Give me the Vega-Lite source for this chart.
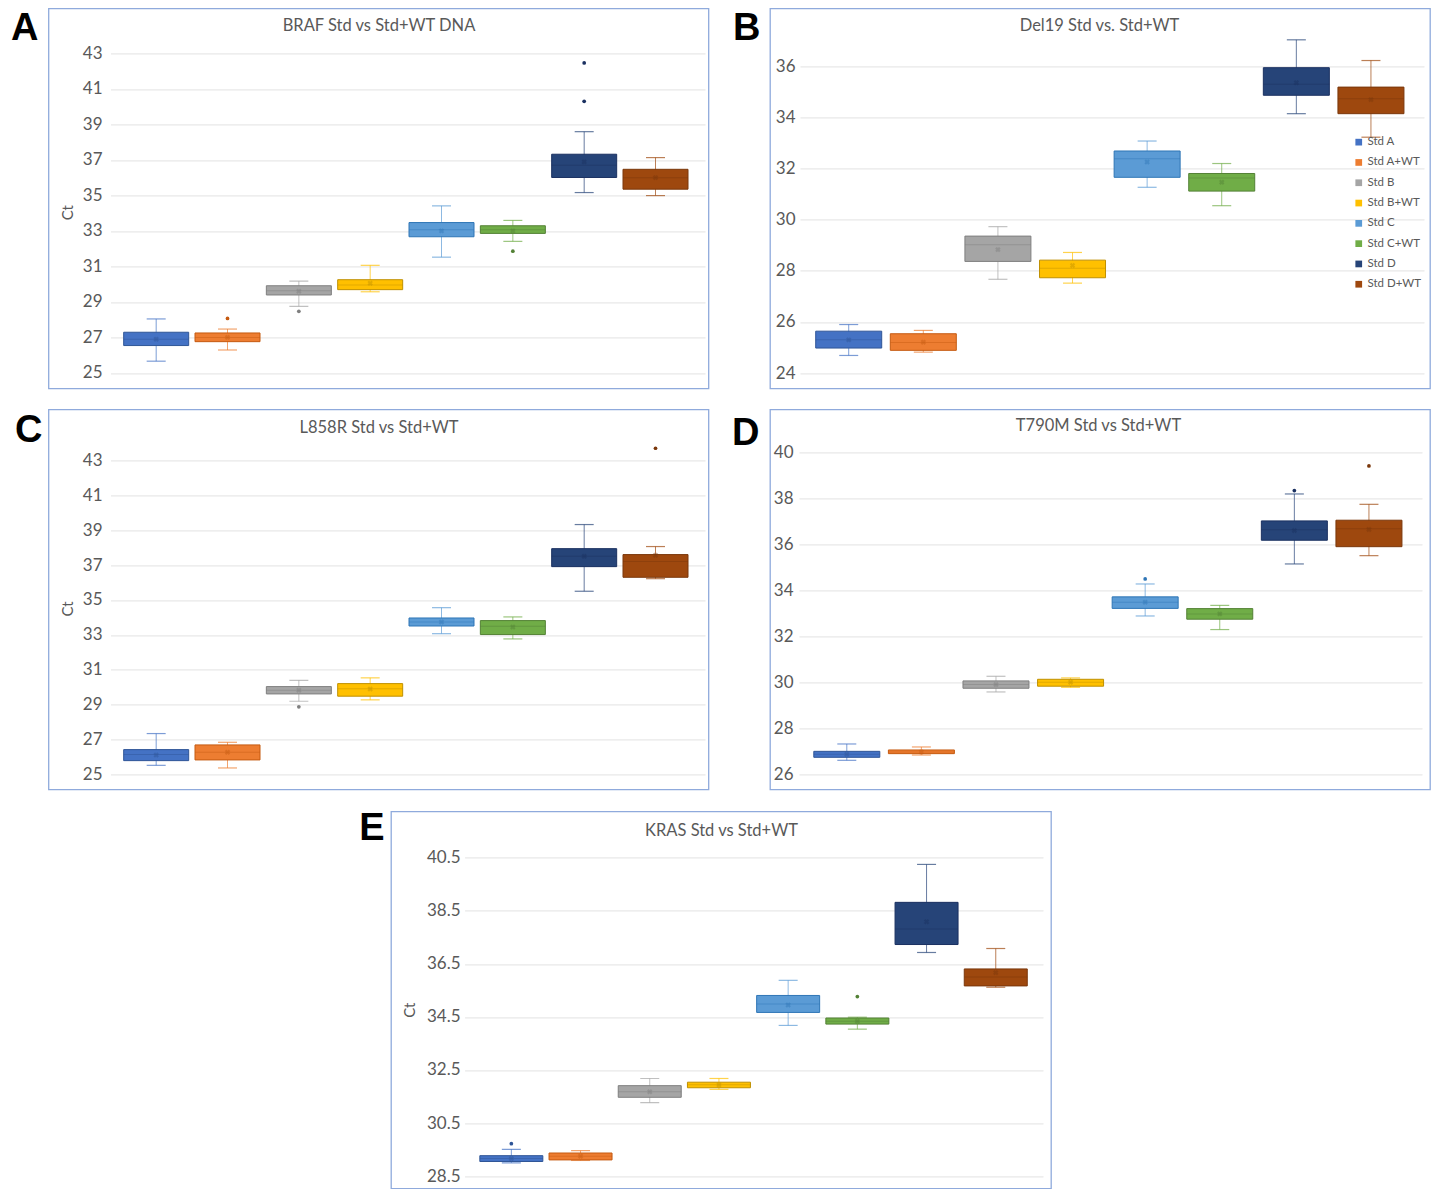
{
"$schema": "https://vega.github.io/schema/vega-lite/v6.json",
"background": "white",
"padding": {"left": 9.5, "top": 7.4, "right": 4, "bottom": 0},
"config": {
  "view": {"stroke": "#8FAADC", "strokeWidth": 1.3},
  "axis": {"labelFont": "Lato", "titleFont": "Lato", "labelColor": "#595959", "titleColor": "#595959", "gridColor": "#E2E2E2", "domain": false, "ticks": false, "titleFontWeight": "normal", "labelFontSize": 17, "titleFontSize": 15},
  "title": {"font": "Liberation Sans", "fontSize": 38, "fontWeight": "bold", "color": "#000000"}
},
"datasets": {
  "boxes": [
    {"panel":"A","group":"Std A","lo":25.66,"q1":26.54,"median":26.90,"q3":27.29,"hi":28.04,"mean":26.90},
    {"panel":"A","group":"Std A+WT","lo":26.29,"q1":26.76,"median":27.00,"q3":27.25,"hi":27.47,"mean":27.00},
    {"panel":"A","group":"Std B","lo":28.75,"q1":29.39,"median":29.63,"q3":29.91,"hi":30.17,"mean":29.60},
    {"panel":"A","group":"Std B+WT","lo":29.57,"q1":29.69,"median":29.95,"q3":30.25,"hi":31.06,"mean":30.05},
    {"panel":"A","group":"Std C","lo":31.52,"q1":32.67,"median":33.06,"q3":33.47,"hi":34.41,"mean":33.00},
    {"panel":"A","group":"Std C+WT","lo":32.41,"q1":32.86,"median":33.06,"q3":33.29,"hi":33.59,"mean":33.00},
    {"panel":"A","group":"Std D","lo":35.16,"q1":36.01,"median":36.70,"q3":37.32,"hi":38.59,"mean":36.89},
    {"panel":"A","group":"Std D+WT","lo":34.99,"q1":35.35,"median":36.00,"q3":36.47,"hi":37.13,"mean":36.00},
    {"panel":"B","group":"Std A","lo":24.69,"q1":24.98,"median":25.30,"q3":25.64,"hi":25.90,"mean":25.30},
    {"panel":"B","group":"Std A+WT","lo":24.82,"q1":24.89,"median":25.20,"q3":25.54,"hi":25.67,"mean":25.21},
    {"panel":"B","group":"Std B","lo":27.67,"q1":28.37,"median":29.02,"q3":29.36,"hi":29.73,"mean":28.83},
    {"panel":"B","group":"Std B+WT","lo":27.52,"q1":27.73,"median":28.10,"q3":28.42,"hi":28.72,"mean":28.21},
    {"panel":"B","group":"Std C","lo":31.27,"q1":31.66,"median":32.39,"q3":32.69,"hi":33.08,"mean":32.26},
    {"panel":"B","group":"Std C+WT","lo":30.55,"q1":31.12,"median":31.63,"q3":31.81,"hi":32.20,"mean":31.47},
    {"panel":"B","group":"Std D","lo":34.15,"q1":34.87,"median":35.30,"q3":35.95,"hi":37.04,"mean":35.36},
    {"panel":"B","group":"Std D+WT","lo":33.23,"q1":34.15,"median":34.73,"q3":35.19,"hi":36.23,"mean":34.70},
    {"panel":"C","group":"Std A","lo":25.53,"q1":25.80,"median":26.15,"q3":26.43,"hi":27.35,"mean":26.12},
    {"panel":"C","group":"Std A+WT","lo":25.38,"q1":25.84,"median":26.28,"q3":26.70,"hi":26.85,"mean":26.28},
    {"panel":"C","group":"Std B","lo":29.20,"q1":29.62,"median":29.83,"q3":30.04,"hi":30.40,"mean":29.83},
    {"panel":"C","group":"Std B+WT","lo":29.28,"q1":29.49,"median":29.91,"q3":30.21,"hi":30.54,"mean":29.90},
    {"panel":"C","group":"Std C","lo":33.07,"q1":33.51,"median":33.74,"q3":33.97,"hi":34.56,"mean":33.74},
    {"panel":"C","group":"Std C+WT","lo":32.77,"q1":33.02,"median":33.49,"q3":33.82,"hi":34.03,"mean":33.45},
    {"panel":"C","group":"Std D","lo":35.50,"q1":36.91,"median":37.50,"q3":37.94,"hi":39.32,"mean":37.50},
    {"panel":"C","group":"Std D+WT","lo":36.22,"q1":36.30,"median":37.20,"q3":37.60,"hi":38.06,"mean":37.56},
    {"panel":"D","group":"Std A","lo":26.62,"q1":26.75,"median":26.88,"q3":27.01,"hi":27.33,"mean":26.88},
    {"panel":"D","group":"Std A+WT","lo":26.85,"q1":26.91,"median":26.98,"q3":27.07,"hi":27.20,"mean":26.98},
    {"panel":"D","group":"Std B","lo":29.59,"q1":29.75,"median":29.91,"q3":30.07,"hi":30.27,"mean":29.91},
    {"panel":"D","group":"Std B+WT","lo":29.79,"q1":29.84,"median":30.01,"q3":30.14,"hi":30.20,"mean":30.01},
    {"panel":"D","group":"Std C","lo":32.89,"q1":33.22,"median":33.49,"q3":33.72,"hi":34.28,"mean":33.49},
    {"panel":"D","group":"Std C+WT","lo":32.30,"q1":32.75,"median":32.98,"q3":33.21,"hi":33.35,"mean":32.98},
    {"panel":"D","group":"Std D","lo":35.15,"q1":36.18,"median":36.64,"q3":37.02,"hi":38.19,"mean":36.60},
    {"panel":"D","group":"Std D+WT","lo":35.51,"q1":35.90,"median":36.68,"q3":37.05,"hi":37.74,"mean":36.65},
    {"panel":"E","group":"Std A","lo":29.00,"q1":29.05,"median":29.16,"q3":29.27,"hi":29.51,"mean":29.16},
    {"panel":"E","group":"Std A+WT","lo":29.09,"q1":29.11,"median":29.25,"q3":29.37,"hi":29.46,"mean":29.25},
    {"panel":"E","group":"Std B","lo":31.27,"q1":31.47,"median":31.68,"q3":31.91,"hi":32.18,"mean":31.68},
    {"panel":"E","group":"Std B+WT","lo":31.77,"q1":31.83,"median":31.94,"q3":32.04,"hi":32.18,"mean":31.94},
    {"panel":"E","group":"Std C","lo":34.18,"q1":34.67,"median":34.99,"q3":35.31,"hi":35.88,"mean":34.95},
    {"panel":"E","group":"Std C+WT","lo":34.04,"q1":34.23,"median":34.34,"q3":34.46,"hi":34.49,"mean":34.34},
    {"panel":"E","group":"Std D","lo":36.93,"q1":37.23,"median":37.82,"q3":38.82,"hi":40.25,"mean":38.09},
    {"panel":"E","group":"Std D+WT","lo":35.62,"q1":35.67,"median":36.01,"q3":36.31,"hi":37.08,"mean":36.17}
  ],
  "outliers": [
    {"panel":"A","group":"Std A+WT","value":28.07},
    {"panel":"A","group":"Std B","value":28.47},
    {"panel":"A","group":"Std C+WT","value":31.86},
    {"panel":"A","group":"Std D","value":40.30},
    {"panel":"A","group":"Std D","value":42.46},
    {"panel":"C","group":"Std B","value":28.88},
    {"panel":"C","group":"Std D+WT","value":43.69},
    {"panel":"D","group":"Std C","value":34.50},
    {"panel":"D","group":"Std D","value":38.34},
    {"panel":"D","group":"Std D+WT","value":39.41},
    {"panel":"E","group":"Std A","value":29.72},
    {"panel":"E","group":"Std C+WT","value":35.27}
  ]
},
"spacing": 19,
"resolve": {"scale": {"color": "independent", "stroke": "independent", "fill": "independent"}, "legend": {"color": "independent"}},
"vconcat": [
 {
  "hconcat": [
   {
    "width": 660, "height": 380,
    "title": {"text": "A", "orient": "left", "anchor": "end", "angle": 0, "align": "left", "baseline": "top", "offset": 10, "dy": 2},
    "data": {"name": "boxes"},
    "transform": [{"filter": "datum.panel === 'A'"}],
    "encoding": {
      "x": {"field": "group", "type": "nominal", "scale": {"domain": ["Std A","Std A+WT","Std B","Std B+WT","Std C","Std C+WT","Std D","Std D+WT"], "range": [62, 656.5], "paddingInner": 0, "paddingOuter": 0.167, "align": 0.42}, "axis": {"orient": "top", "title": "BRAF Std vs Std+WT DNA", "labels": false, "ticks": false, "domain": false, "grid": false, "titleX": 330, "titleY": 17.5, "titleBaseline": "middle", "titleFontSize": 16.5}},
      "color": {"field": "group", "type": "nominal", "scale": {"domain": ["Std A","Std A+WT","Std B","Std B+WT","Std C","Std C+WT","Std D","Std D+WT"], "range": ["#4472C4","#ED7D31","#A5A5A5","#FFC000","#5B9BD5","#70AD47","#264478","#9E480E"]}, "legend": null}
    },
    "layer": [
      {"mark": {"type": "rule", "strokeWidth": 1, "opacity": 0.7}, "encoding": {"y": {"field": "lo", "type": "quantitative", "scale": {"domain": [25, 43], "range": [364.5, 45], "nice": false, "zero": false}, "axis": {"orient": "left", "offset": -62, "values": [25,27,29,31,33,35,37,39,41,43], "labelPadding": 8.5, "grid": true, "title": "Ct", "titleX": -43.5, "titleY": 203.7, "titleAngle": -90, "titleBaseline": "middle", "titleAlign": "center"}}, "y2": {"field": "hi"}}},
      {"mark": {"type": "tick", "size": 19, "thickness": 1.2, "opacity": 0.7}, "encoding": {"y": {"field": "lo", "type": "quantitative", "scale": {"domain": [25, 43], "range": [364.5, 45], "nice": false, "zero": false}, "axis": {"orient": "left", "offset": -62, "values": [25,27,29,31,33,35,37,39,41,43], "labelPadding": 8.5, "grid": true, "title": "Ct", "titleX": -43.5, "titleY": 203.7, "titleAngle": -90, "titleBaseline": "middle", "titleAlign": "center"}}}},
      {"mark": {"type": "tick", "size": 19, "thickness": 1.2, "opacity": 0.7}, "encoding": {"y": {"field": "hi", "type": "quantitative", "scale": {"domain": [25, 43], "range": [364.5, 45], "nice": false, "zero": false}, "axis": {"orient": "left", "offset": -62, "values": [25,27,29,31,33,35,37,39,41,43], "labelPadding": 8.5, "grid": true, "title": "Ct", "titleX": -43.5, "titleY": 203.7, "titleAngle": -90, "titleBaseline": "middle", "titleAlign": "center"}}}},
      {"mark": {"type": "bar", "size": 65, "strokeWidth": 1}, "encoding": {"y": {"field": "q1", "type": "quantitative", "scale": {"domain": [25, 43], "range": [364.5, 45], "nice": false, "zero": false}, "axis": {"orient": "left", "offset": -62, "values": [25,27,29,31,33,35,37,39,41,43], "labelPadding": 8.5, "grid": true, "title": "Ct", "titleX": -43.5, "titleY": 203.7, "titleAngle": -90, "titleBaseline": "middle", "titleAlign": "center"}}, "y2": {"field": "q3"}, "stroke": {"field": "group", "type": "nominal", "scale": {"domain": ["Std A","Std A+WT","Std B","Std B+WT","Std C","Std C+WT","Std D","Std D+WT"], "range": ["#2F5597","#C55A11","#7F7F7F","#BF9000","#2E75B6","#538135","#1A3060","#7A370B"]}, "legend": null}}},
      {"mark": {"type": "tick", "size": 65, "thickness": 1, "opacity": 0.45}, "encoding": {"y": {"field": "median", "type": "quantitative", "scale": {"domain": [25, 43], "range": [364.5, 45], "nice": false, "zero": false}, "axis": {"orient": "left", "offset": -62, "values": [25,27,29,31,33,35,37,39,41,43], "labelPadding": 8.5, "grid": true, "title": "Ct", "titleX": -43.5, "titleY": 203.7, "titleAngle": -90, "titleBaseline": "middle", "titleAlign": "center"}}, "fill": {"field": "group", "type": "nominal", "scale": {"domain": ["Std A","Std A+WT","Std B","Std B+WT","Std C","Std C+WT","Std D","Std D+WT"], "range": ["#2F5597","#C55A11","#7F7F7F","#BF9000","#2E75B6","#538135","#1A3060","#7A370B"]}, "legend": null}}},
      {"mark": {"type": "point", "shape": "cross", "angle": 45, "size": 30, "filled": true, "opacity": 0.45}, "encoding": {"y": {"field": "mean", "type": "quantitative", "scale": {"domain": [25, 43], "range": [364.5, 45], "nice": false, "zero": false}, "axis": {"orient": "left", "offset": -62, "values": [25,27,29,31,33,35,37,39,41,43], "labelPadding": 8.5, "grid": true, "title": "Ct", "titleX": -43.5, "titleY": 203.7, "titleAngle": -90, "titleBaseline": "middle", "titleAlign": "center"}}, "fill": {"field": "group", "type": "nominal", "scale": {"domain": ["Std A","Std A+WT","Std B","Std B+WT","Std C","Std C+WT","Std D","Std D+WT"], "range": ["#2F5597","#C55A11","#7F7F7F","#BF9000","#2E75B6","#538135","#1A3060","#7A370B"]}, "legend": null}}},
      {"data": {"name": "outliers"}, "transform": [{"filter": "datum.panel === 'A'"}], "mark": {"type": "point", "filled": true, "size": 14, "opacity": 1}, "encoding": {"y": {"field": "value", "type": "quantitative", "scale": {"domain": [25, 43], "range": [364.5, 45], "nice": false, "zero": false}, "axis": {"orient": "left", "offset": -62, "values": [25,27,29,31,33,35,37,39,41,43], "labelPadding": 8.5, "grid": true, "title": "Ct", "titleX": -43.5, "titleY": 203.7, "titleAngle": -90, "titleBaseline": "middle", "titleAlign": "center"}}, "fill": {"field": "group", "type": "nominal", "scale": {"domain": ["Std A","Std A+WT","Std B","Std B+WT","Std C","Std C+WT","Std D","Std D+WT"], "range": ["#2F5597","#C55A11","#7F7F7F","#BF9000","#2E75B6","#538135","#1A3060","#7A370B"]}, "legend": null}}}
    ]
   },
   {
    "width": 660, "height": 380,
    "title": {"text": "B", "orient": "left", "anchor": "end", "angle": 0, "align": "left", "baseline": "top", "offset": 9.5, "dy": 2},
    "data": {"name": "boxes"},
    "transform": [{"filter": "datum.panel === 'B'"}],
    "encoding": {
      "x": {"field": "group", "type": "nominal", "scale": {"domain": ["Std A","Std A+WT","Std B","Std B+WT","Std C","Std C+WT","Std D","Std D+WT"], "range": [30, 654], "paddingInner": 0, "paddingOuter": 0.182, "align": 0.42}, "axis": {"orient": "top", "title": "Del19 Std vs. Std+WT", "labels": false, "ticks": false, "domain": false, "grid": false, "titleX": 329, "titleY": 17, "titleBaseline": "middle", "titleFontSize": 16.5}},
      "color": {"field": "group", "type": "nominal", "scale": {"domain": ["Std A","Std A+WT","Std B","Std B+WT","Std C","Std C+WT","Std D","Std D+WT"], "range": ["#4472C4","#ED7D31","#A5A5A5","#FFC000","#5B9BD5","#70AD47","#264478","#9E480E"]}, "legend": {"orient": "none", "legendX": 583, "legendY": 128, "title": null, "symbolType": "square", "symbolSize": 45, "symbolStrokeWidth": 0, "symbolOpacity": 1, "labelFont": "Lato", "labelFontSize": 11.5, "labelColor": "#595959", "rowPadding": 7.3, "labelOffset": 3, "padding": 0}}
    },
    "layer": [
      {"mark": {"type": "rule", "strokeWidth": 1, "opacity": 0.7}, "encoding": {"y": {"field": "lo", "type": "quantitative", "scale": {"domain": [24, 36], "range": [364.7, 58], "nice": false, "zero": false}, "axis": {"orient": "left", "offset": -30, "values": [24,26,28,30,32,34,36], "labelPadding": 5, "grid": true, "title": null}}, "y2": {"field": "hi"}}},
      {"mark": {"type": "tick", "size": 19, "thickness": 1.2, "opacity": 0.7}, "encoding": {"y": {"field": "lo", "type": "quantitative", "scale": {"domain": [24, 36], "range": [364.7, 58], "nice": false, "zero": false}, "axis": {"orient": "left", "offset": -30, "values": [24,26,28,30,32,34,36], "labelPadding": 5, "grid": true, "title": null}}}},
      {"mark": {"type": "tick", "size": 19, "thickness": 1.2, "opacity": 0.7}, "encoding": {"y": {"field": "hi", "type": "quantitative", "scale": {"domain": [24, 36], "range": [364.7, 58], "nice": false, "zero": false}, "axis": {"orient": "left", "offset": -30, "values": [24,26,28,30,32,34,36], "labelPadding": 5, "grid": true, "title": null}}}},
      {"mark": {"type": "bar", "size": 66, "strokeWidth": 1}, "encoding": {"y": {"field": "q1", "type": "quantitative", "scale": {"domain": [24, 36], "range": [364.7, 58], "nice": false, "zero": false}, "axis": {"orient": "left", "offset": -30, "values": [24,26,28,30,32,34,36], "labelPadding": 5, "grid": true, "title": null}}, "y2": {"field": "q3"}, "stroke": {"field": "group", "type": "nominal", "scale": {"domain": ["Std A","Std A+WT","Std B","Std B+WT","Std C","Std C+WT","Std D","Std D+WT"], "range": ["#2F5597","#C55A11","#7F7F7F","#BF9000","#2E75B6","#538135","#1A3060","#7A370B"]}, "legend": null}}},
      {"mark": {"type": "tick", "size": 66, "thickness": 1, "opacity": 0.45}, "encoding": {"y": {"field": "median", "type": "quantitative", "scale": {"domain": [24, 36], "range": [364.7, 58], "nice": false, "zero": false}, "axis": {"orient": "left", "offset": -30, "values": [24,26,28,30,32,34,36], "labelPadding": 5, "grid": true, "title": null}}, "fill": {"field": "group", "type": "nominal", "scale": {"domain": ["Std A","Std A+WT","Std B","Std B+WT","Std C","Std C+WT","Std D","Std D+WT"], "range": ["#2F5597","#C55A11","#7F7F7F","#BF9000","#2E75B6","#538135","#1A3060","#7A370B"]}, "legend": null}}},
      {"mark": {"type": "point", "shape": "cross", "angle": 45, "size": 30, "filled": true, "opacity": 0.45}, "encoding": {"y": {"field": "mean", "type": "quantitative", "scale": {"domain": [24, 36], "range": [364.7, 58], "nice": false, "zero": false}, "axis": {"orient": "left", "offset": -30, "values": [24,26,28,30,32,34,36], "labelPadding": 5, "grid": true, "title": null}}, "fill": {"field": "group", "type": "nominal", "scale": {"domain": ["Std A","Std A+WT","Std B","Std B+WT","Std C","Std C+WT","Std D","Std D+WT"], "range": ["#2F5597","#C55A11","#7F7F7F","#BF9000","#2E75B6","#538135","#1A3060","#7A370B"]}, "legend": null}}}
    ]
   }
  ],
  "spacing": 61.5,
  "bounds": "flush",
  "resolve": {"scale": {"color": "independent", "stroke": "independent", "fill": "independent"}, "legend": {"color": "independent"}}
 },
 {
  "hconcat": [
   {
    "width": 660, "height": 380,
    "title": {"text": "C", "orient": "left", "anchor": "end", "angle": 0, "align": "left", "baseline": "top", "offset": 6, "dy": 3},
    "data": {"name": "boxes"},
    "transform": [{"filter": "datum.panel === 'C'"}],
    "encoding": {
      "x": {"field": "group", "type": "nominal", "scale": {"domain": ["Std A","Std A+WT","Std B","Std B+WT","Std C","Std C+WT","Std D","Std D+WT"], "range": [62, 656.5], "paddingInner": 0, "paddingOuter": 0.167, "align": 0.42}, "axis": {"orient": "top", "title": "L858R Std vs Std+WT", "labels": false, "ticks": false, "domain": false, "grid": false, "titleX": 330, "titleY": 18, "titleBaseline": "middle", "titleFontSize": 16.5}},
      "color": {"field": "group", "type": "nominal", "scale": {"domain": ["Std A","Std A+WT","Std B","Std B+WT","Std C","Std C+WT","Std D","Std D+WT"], "range": ["#4472C4","#ED7D31","#A5A5A5","#FFC000","#5B9BD5","#70AD47","#264478","#9E480E"]}, "legend": null}
    },
    "layer": [
      {"mark": {"type": "rule", "strokeWidth": 1, "opacity": 0.7}, "encoding": {"y": {"field": "lo", "type": "quantitative", "scale": {"domain": [25, 43], "range": [365.2, 50.9], "nice": false, "zero": false}, "axis": {"orient": "left", "offset": -62, "values": [25,27,29,31,33,35,37,39,41,43], "labelPadding": 8.5, "grid": true, "title": "Ct", "titleX": -43.5, "titleY": 199, "titleAngle": -90, "titleBaseline": "middle", "titleAlign": "center"}}, "y2": {"field": "hi"}}},
      {"mark": {"type": "tick", "size": 19, "thickness": 1.2, "opacity": 0.7}, "encoding": {"y": {"field": "lo", "type": "quantitative", "scale": {"domain": [25, 43], "range": [365.2, 50.9], "nice": false, "zero": false}, "axis": {"orient": "left", "offset": -62, "values": [25,27,29,31,33,35,37,39,41,43], "labelPadding": 8.5, "grid": true, "title": "Ct", "titleX": -43.5, "titleY": 199, "titleAngle": -90, "titleBaseline": "middle", "titleAlign": "center"}}}},
      {"mark": {"type": "tick", "size": 19, "thickness": 1.2, "opacity": 0.7}, "encoding": {"y": {"field": "hi", "type": "quantitative", "scale": {"domain": [25, 43], "range": [365.2, 50.9], "nice": false, "zero": false}, "axis": {"orient": "left", "offset": -62, "values": [25,27,29,31,33,35,37,39,41,43], "labelPadding": 8.5, "grid": true, "title": "Ct", "titleX": -43.5, "titleY": 199, "titleAngle": -90, "titleBaseline": "middle", "titleAlign": "center"}}}},
      {"mark": {"type": "bar", "size": 65, "strokeWidth": 1}, "encoding": {"y": {"field": "q1", "type": "quantitative", "scale": {"domain": [25, 43], "range": [365.2, 50.9], "nice": false, "zero": false}, "axis": {"orient": "left", "offset": -62, "values": [25,27,29,31,33,35,37,39,41,43], "labelPadding": 8.5, "grid": true, "title": "Ct", "titleX": -43.5, "titleY": 199, "titleAngle": -90, "titleBaseline": "middle", "titleAlign": "center"}}, "y2": {"field": "q3"}, "stroke": {"field": "group", "type": "nominal", "scale": {"domain": ["Std A","Std A+WT","Std B","Std B+WT","Std C","Std C+WT","Std D","Std D+WT"], "range": ["#2F5597","#C55A11","#7F7F7F","#BF9000","#2E75B6","#538135","#1A3060","#7A370B"]}, "legend": null}}},
      {"mark": {"type": "tick", "size": 65, "thickness": 1, "opacity": 0.45}, "encoding": {"y": {"field": "median", "type": "quantitative", "scale": {"domain": [25, 43], "range": [365.2, 50.9], "nice": false, "zero": false}, "axis": {"orient": "left", "offset": -62, "values": [25,27,29,31,33,35,37,39,41,43], "labelPadding": 8.5, "grid": true, "title": "Ct", "titleX": -43.5, "titleY": 199, "titleAngle": -90, "titleBaseline": "middle", "titleAlign": "center"}}, "fill": {"field": "group", "type": "nominal", "scale": {"domain": ["Std A","Std A+WT","Std B","Std B+WT","Std C","Std C+WT","Std D","Std D+WT"], "range": ["#2F5597","#C55A11","#7F7F7F","#BF9000","#2E75B6","#538135","#1A3060","#7A370B"]}, "legend": null}}},
      {"mark": {"type": "point", "shape": "cross", "angle": 45, "size": 30, "filled": true, "opacity": 0.45}, "encoding": {"y": {"field": "mean", "type": "quantitative", "scale": {"domain": [25, 43], "range": [365.2, 50.9], "nice": false, "zero": false}, "axis": {"orient": "left", "offset": -62, "values": [25,27,29,31,33,35,37,39,41,43], "labelPadding": 8.5, "grid": true, "title": "Ct", "titleX": -43.5, "titleY": 199, "titleAngle": -90, "titleBaseline": "middle", "titleAlign": "center"}}, "fill": {"field": "group", "type": "nominal", "scale": {"domain": ["Std A","Std A+WT","Std B","Std B+WT","Std C","Std C+WT","Std D","Std D+WT"], "range": ["#2F5597","#C55A11","#7F7F7F","#BF9000","#2E75B6","#538135","#1A3060","#7A370B"]}, "legend": null}}},
      {"data": {"name": "outliers"}, "transform": [{"filter": "datum.panel === 'C'"}], "mark": {"type": "point", "filled": true, "size": 14, "opacity": 1}, "encoding": {"y": {"field": "value", "type": "quantitative", "scale": {"domain": [25, 43], "range": [365.2, 50.9], "nice": false, "zero": false}, "axis": {"orient": "left", "offset": -62, "values": [25,27,29,31,33,35,37,39,41,43], "labelPadding": 8.5, "grid": true, "title": "Ct", "titleX": -43.5, "titleY": 199, "titleAngle": -90, "titleBaseline": "middle", "titleAlign": "center"}}, "fill": {"field": "group", "type": "nominal", "scale": {"domain": ["Std A","Std A+WT","Std B","Std B+WT","Std C","Std C+WT","Std D","Std D+WT"], "range": ["#2F5597","#C55A11","#7F7F7F","#BF9000","#2E75B6","#538135","#1A3060","#7A370B"]}, "legend": null}}}
    ]
   },
   {
    "width": 660, "height": 380,
    "title": {"text": "D", "orient": "left", "anchor": "end", "angle": 0, "align": "left", "baseline": "top", "offset": 10.5, "dy": 6},
    "data": {"name": "boxes"},
    "transform": [{"filter": "datum.panel === 'D'"}],
    "encoding": {
      "x": {"field": "group", "type": "nominal", "scale": {"domain": ["Std A","Std A+WT","Std B","Std B+WT","Std C","Std C+WT","Std D","Std D+WT"], "range": [29, 652], "paddingInner": 0, "paddingOuter": 0.176, "align": 0.4}, "axis": {"orient": "top", "title": "T790M Std vs Std+WT", "labels": false, "ticks": false, "domain": false, "grid": false, "titleX": 328, "titleY": 16.5, "titleBaseline": "middle", "titleFontSize": 16.5}},
      "color": {"field": "group", "type": "nominal", "scale": {"domain": ["Std A","Std A+WT","Std B","Std B+WT","Std C","Std C+WT","Std D","Std D+WT"], "range": ["#4472C4","#ED7D31","#A5A5A5","#FFC000","#5B9BD5","#70AD47","#264478","#9E480E"]}, "legend": null}
    },
    "layer": [
      {"mark": {"type": "rule", "strokeWidth": 1, "opacity": 0.7}, "encoding": {"y": {"field": "lo", "type": "quantitative", "scale": {"domain": [26, 40], "range": [365.2, 42.9], "nice": false, "zero": false}, "axis": {"orient": "left", "offset": -29, "values": [26,28,30,32,34,36,38,40], "labelPadding": 6, "grid": true, "title": null}}, "y2": {"field": "hi"}}},
      {"mark": {"type": "tick", "size": 19, "thickness": 1.2, "opacity": 0.7}, "encoding": {"y": {"field": "lo", "type": "quantitative", "scale": {"domain": [26, 40], "range": [365.2, 42.9], "nice": false, "zero": false}, "axis": {"orient": "left", "offset": -29, "values": [26,28,30,32,34,36,38,40], "labelPadding": 6, "grid": true, "title": null}}}},
      {"mark": {"type": "tick", "size": 19, "thickness": 1.2, "opacity": 0.7}, "encoding": {"y": {"field": "hi", "type": "quantitative", "scale": {"domain": [26, 40], "range": [365.2, 42.9], "nice": false, "zero": false}, "axis": {"orient": "left", "offset": -29, "values": [26,28,30,32,34,36,38,40], "labelPadding": 6, "grid": true, "title": null}}}},
      {"mark": {"type": "bar", "size": 66, "strokeWidth": 1}, "encoding": {"y": {"field": "q1", "type": "quantitative", "scale": {"domain": [26, 40], "range": [365.2, 42.9], "nice": false, "zero": false}, "axis": {"orient": "left", "offset": -29, "values": [26,28,30,32,34,36,38,40], "labelPadding": 6, "grid": true, "title": null}}, "y2": {"field": "q3"}, "stroke": {"field": "group", "type": "nominal", "scale": {"domain": ["Std A","Std A+WT","Std B","Std B+WT","Std C","Std C+WT","Std D","Std D+WT"], "range": ["#2F5597","#C55A11","#7F7F7F","#BF9000","#2E75B6","#538135","#1A3060","#7A370B"]}, "legend": null}}},
      {"mark": {"type": "tick", "size": 66, "thickness": 1, "opacity": 0.45}, "encoding": {"y": {"field": "median", "type": "quantitative", "scale": {"domain": [26, 40], "range": [365.2, 42.9], "nice": false, "zero": false}, "axis": {"orient": "left", "offset": -29, "values": [26,28,30,32,34,36,38,40], "labelPadding": 6, "grid": true, "title": null}}, "fill": {"field": "group", "type": "nominal", "scale": {"domain": ["Std A","Std A+WT","Std B","Std B+WT","Std C","Std C+WT","Std D","Std D+WT"], "range": ["#2F5597","#C55A11","#7F7F7F","#BF9000","#2E75B6","#538135","#1A3060","#7A370B"]}, "legend": null}}},
      {"mark": {"type": "point", "shape": "cross", "angle": 45, "size": 30, "filled": true, "opacity": 0.45}, "encoding": {"y": {"field": "mean", "type": "quantitative", "scale": {"domain": [26, 40], "range": [365.2, 42.9], "nice": false, "zero": false}, "axis": {"orient": "left", "offset": -29, "values": [26,28,30,32,34,36,38,40], "labelPadding": 6, "grid": true, "title": null}}, "fill": {"field": "group", "type": "nominal", "scale": {"domain": ["Std A","Std A+WT","Std B","Std B+WT","Std C","Std C+WT","Std D","Std D+WT"], "range": ["#2F5597","#C55A11","#7F7F7F","#BF9000","#2E75B6","#538135","#1A3060","#7A370B"]}, "legend": null}}},
      {"data": {"name": "outliers"}, "transform": [{"filter": "datum.panel === 'D'"}], "mark": {"type": "point", "filled": true, "size": 14, "opacity": 1}, "encoding": {"y": {"field": "value", "type": "quantitative", "scale": {"domain": [26, 40], "range": [365.2, 42.9], "nice": false, "zero": false}, "axis": {"orient": "left", "offset": -29, "values": [26,28,30,32,34,36,38,40], "labelPadding": 6, "grid": true, "title": null}}, "fill": {"field": "group", "type": "nominal", "scale": {"domain": ["Std A","Std A+WT","Std B","Std B+WT","Std C","Std C+WT","Std D","Std D+WT"], "range": ["#2F5597","#C55A11","#7F7F7F","#BF9000","#2E75B6","#538135","#1A3060","#7A370B"]}, "legend": null}}}
    ]
   }
  ],
  "spacing": 61.5,
  "bounds": "flush",
  "resolve": {"scale": {"color": "independent", "stroke": "independent", "fill": "independent"}, "legend": {"color": "independent"}}
 },
 {
  "hconcat": [
   {
    "width": 300, "height": 10,
    "data": {"values": []},
    "mark": "point",
    "view": {"stroke": "transparent"}
   },
   {
    "width": 660, "height": 377,
    "title": {"text": "E", "orient": "left", "anchor": "end", "angle": 0, "align": "left", "baseline": "top", "offset": 6.5, "dy": -1},
    "data": {"name": "boxes"},
    "transform": [{"filter": "datum.panel === 'E'"}],
    "encoding": {
      "x": {"field": "group", "type": "nominal", "scale": {"domain": ["Std A","Std A+WT","Std B","Std B+WT","Std C","Std C+WT","Std D","Std D+WT"], "range": [73.6, 652], "paddingInner": 0, "paddingOuter": 0.179, "align": 0.49}, "axis": {"orient": "top", "title": "KRAS Std vs Std+WT", "labels": false, "ticks": false, "domain": false, "grid": false, "titleX": 330, "titleY": 19, "titleBaseline": "middle", "titleFontSize": 16.5}},
      "color": {"field": "group", "type": "nominal", "scale": {"domain": ["Std A","Std A+WT","Std B","Std B+WT","Std C","Std C+WT","Std D","Std D+WT"], "range": ["#4472C4","#ED7D31","#A5A5A5","#FFC000","#5B9BD5","#70AD47","#264478","#9E480E"]}, "legend": null}
    },
    "layer": [
      {"mark": {"type": "rule", "strokeWidth": 1, "opacity": 0.7}, "encoding": {"y": {"field": "lo", "type": "quantitative", "scale": {"domain": [28.5, 40.5], "range": [364.7, 46.4], "nice": false, "zero": false}, "axis": {"orient": "left", "offset": -74, "values": [28.5,30.5,32.5,34.5,36.5,38.5,40.5], "format": ".1f", "labelPadding": 5, "grid": true, "title": "Ct", "titleX": -56, "titleY": 198.4, "titleAngle": -90, "titleBaseline": "middle", "titleAlign": "center"}}, "y2": {"field": "hi"}}},
      {"mark": {"type": "tick", "size": 19, "thickness": 1.2, "opacity": 0.7}, "encoding": {"y": {"field": "lo", "type": "quantitative", "scale": {"domain": [28.5, 40.5], "range": [364.7, 46.4], "nice": false, "zero": false}, "axis": {"orient": "left", "offset": -74, "values": [28.5,30.5,32.5,34.5,36.5,38.5,40.5], "format": ".1f", "labelPadding": 5, "grid": true, "title": "Ct", "titleX": -56, "titleY": 198.4, "titleAngle": -90, "titleBaseline": "middle", "titleAlign": "center"}}}},
      {"mark": {"type": "tick", "size": 19, "thickness": 1.2, "opacity": 0.7}, "encoding": {"y": {"field": "hi", "type": "quantitative", "scale": {"domain": [28.5, 40.5], "range": [364.7, 46.4], "nice": false, "zero": false}, "axis": {"orient": "left", "offset": -74, "values": [28.5,30.5,32.5,34.5,36.5,38.5,40.5], "format": ".1f", "labelPadding": 5, "grid": true, "title": "Ct", "titleX": -56, "titleY": 198.4, "titleAngle": -90, "titleBaseline": "middle", "titleAlign": "center"}}}},
      {"mark": {"type": "bar", "size": 63, "strokeWidth": 1}, "encoding": {"y": {"field": "q1", "type": "quantitative", "scale": {"domain": [28.5, 40.5], "range": [364.7, 46.4], "nice": false, "zero": false}, "axis": {"orient": "left", "offset": -74, "values": [28.5,30.5,32.5,34.5,36.5,38.5,40.5], "format": ".1f", "labelPadding": 5, "grid": true, "title": "Ct", "titleX": -56, "titleY": 198.4, "titleAngle": -90, "titleBaseline": "middle", "titleAlign": "center"}}, "y2": {"field": "q3"}, "stroke": {"field": "group", "type": "nominal", "scale": {"domain": ["Std A","Std A+WT","Std B","Std B+WT","Std C","Std C+WT","Std D","Std D+WT"], "range": ["#2F5597","#C55A11","#7F7F7F","#BF9000","#2E75B6","#538135","#1A3060","#7A370B"]}, "legend": null}}},
      {"mark": {"type": "tick", "size": 63, "thickness": 1, "opacity": 0.45}, "encoding": {"y": {"field": "median", "type": "quantitative", "scale": {"domain": [28.5, 40.5], "range": [364.7, 46.4], "nice": false, "zero": false}, "axis": {"orient": "left", "offset": -74, "values": [28.5,30.5,32.5,34.5,36.5,38.5,40.5], "format": ".1f", "labelPadding": 5, "grid": true, "title": "Ct", "titleX": -56, "titleY": 198.4, "titleAngle": -90, "titleBaseline": "middle", "titleAlign": "center"}}, "fill": {"field": "group", "type": "nominal", "scale": {"domain": ["Std A","Std A+WT","Std B","Std B+WT","Std C","Std C+WT","Std D","Std D+WT"], "range": ["#2F5597","#C55A11","#7F7F7F","#BF9000","#2E75B6","#538135","#1A3060","#7A370B"]}, "legend": null}}},
      {"mark": {"type": "point", "shape": "cross", "angle": 45, "size": 30, "filled": true, "opacity": 0.45}, "encoding": {"y": {"field": "mean", "type": "quantitative", "scale": {"domain": [28.5, 40.5], "range": [364.7, 46.4], "nice": false, "zero": false}, "axis": {"orient": "left", "offset": -74, "values": [28.5,30.5,32.5,34.5,36.5,38.5,40.5], "format": ".1f", "labelPadding": 5, "grid": true, "title": "Ct", "titleX": -56, "titleY": 198.4, "titleAngle": -90, "titleBaseline": "middle", "titleAlign": "center"}}, "fill": {"field": "group", "type": "nominal", "scale": {"domain": ["Std A","Std A+WT","Std B","Std B+WT","Std C","Std C+WT","Std D","Std D+WT"], "range": ["#2F5597","#C55A11","#7F7F7F","#BF9000","#2E75B6","#538135","#1A3060","#7A370B"]}, "legend": null}}},
      {"data": {"name": "outliers"}, "transform": [{"filter": "datum.panel === 'E'"}], "mark": {"type": "point", "filled": true, "size": 14, "opacity": 1}, "encoding": {"y": {"field": "value", "type": "quantitative", "scale": {"domain": [28.5, 40.5], "range": [364.7, 46.4], "nice": false, "zero": false}, "axis": {"orient": "left", "offset": -74, "values": [28.5,30.5,32.5,34.5,36.5,38.5,40.5], "format": ".1f", "labelPadding": 5, "grid": true, "title": "Ct", "titleX": -56, "titleY": 198.4, "titleAngle": -90, "titleBaseline": "middle", "titleAlign": "center"}}, "fill": {"field": "group", "type": "nominal", "scale": {"domain": ["Std A","Std A+WT","Std B","Std B+WT","Std C","Std C+WT","Std D","Std D+WT"], "range": ["#2F5597","#C55A11","#7F7F7F","#BF9000","#2E75B6","#538135","#1A3060","#7A370B"]}, "legend": null}}}
    ]
   }
  ],
  "spacing": 42.5,
  "bounds": "flush",
  "resolve": {"scale": {"color": "independent", "stroke": "independent", "fill": "independent"}, "legend": {"color": "independent"}}
 }
]
}
